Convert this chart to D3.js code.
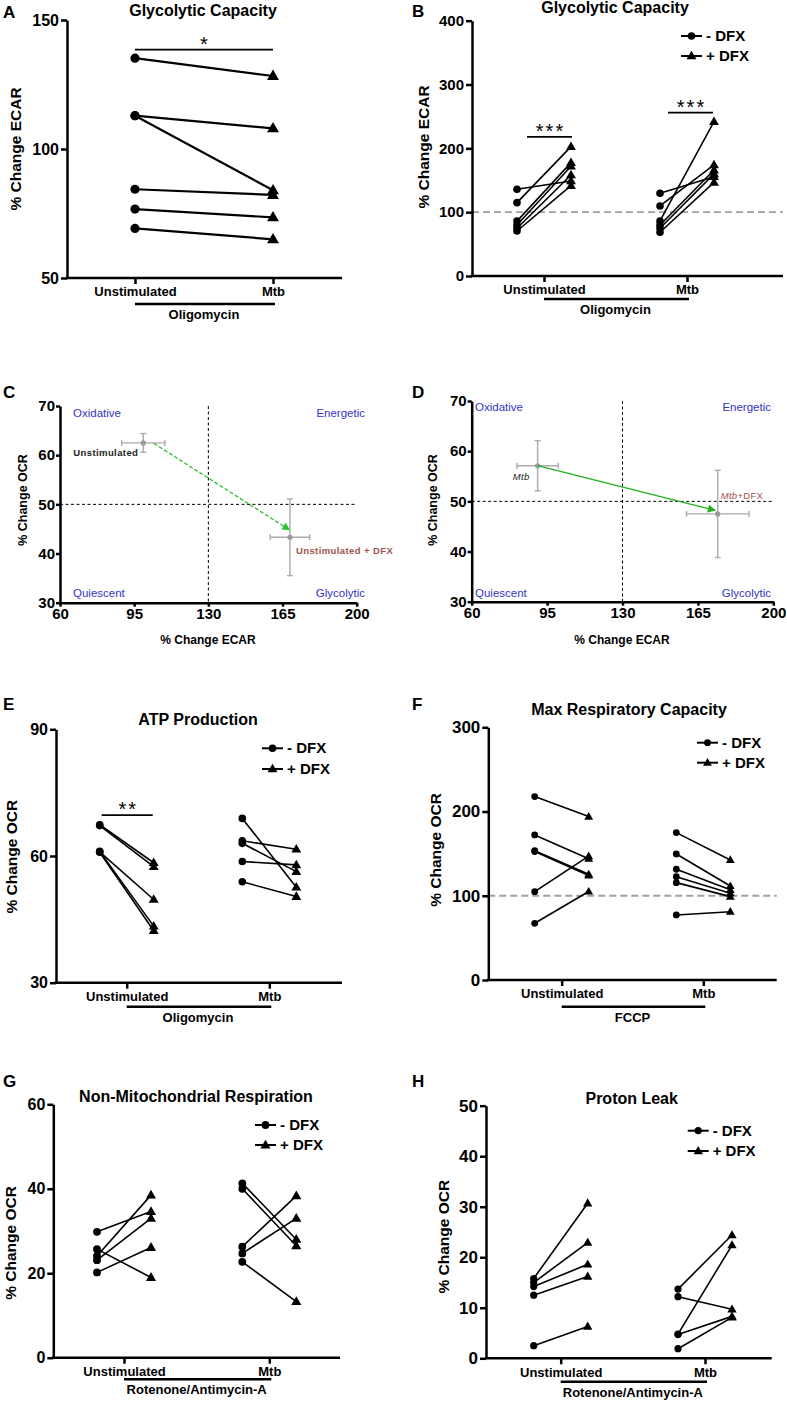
<!DOCTYPE html>
<html>
<head>
<meta charset="utf-8">
<script src="https://cdn.jsdelivr.net/npm/d3@7"></script>
<style>
body { margin: 0; background: #fff; }
svg text { font-family: "Liberation Sans", Arial, sans-serif; }
</style>
</head>
<body>
<svg id="fig" width="787" height="1403"></svg>
<script>
// categories / legend
var categories = ["Unstimulated", "Mtb"];
var legendLabels = ["- DFX", "+ DFX"];

// A: glycolytic capacity, unstim (circle) vs Mtb (triangle)
var aUnstim = [135.2, 112.9, 112.9, 84.4, 76.7, 69.2];
var aMtb = [128.3, 108.0, 84.0, 82.2, 73.5, 65.0];

// B: glycolytic capacity -/+ DFX
var bUnstimMinus = [135.9, 114.9, 86.0, 80.0, 74.8, 70.5];
var bUnstimPlus = [148.9, 202.7, 177.6, 172.0, 158.3, 141.5];
var bMtbMinus = [129.6, 109.7, 86.2, 80.0, 74.8, 68.5];
var bMtbPlus = [155.6, 174.0, 241.8, 166.0, 160.0, 146.8];

// C / D: energy map (ECAR x, OCR y, +/- error)
var cLabels = ["Unstimulated", "Unstimulated + DFX"];
var cEcar = [99.3, 168.5];
var cEcarErr = [10.2, 9.3];
var cOcr = [62.5, 43.3];
var cOcrErr = [1.9, 7.8];
var cArrow = [[104.3, 62.4], [168.3, 44.8]];

var dLabels = ["Mtb", "Mtb+DFX"];
var dEcar = [90.6, 174.2];
var dEcarErr = [9.6, 14.5];
var dOcr = [57.1, 47.5];
var dOcrErr = [5.0, 8.7];
var dArrow = [[90.6, 57.1], [173.0, 48.2]];

var quadrants = ["Oxidative", "Energetic", "Quiescent", "Glycolytic"];

// E: ATP production
var eUnstimMinus = [67.4, 67.2, 61.0, 61.1, 60.9];
var eUnstimPlus = [58.4, 57.5, 49.7, 43.4, 42.3];
var eMtbMinus = [68.9, 63.6, 63.0, 58.7, 53.9];
var eMtbPlus = [52.6, 61.6, 56.3, 57.9, 50.4];

// F: max respiratory capacity
var fUnstimMinus = [217.7, 172.2, 153.6, 152.5, 104.9, 67.3];
var fUnstimPlus = [194.0, 144.0, 125.5, 124.0, 147.0, 105.0];
var fMtbMinus = [175.0, 149.6, 131.5, 122.7, 115.6, 77.2];
var fMtbPlus = [142.5, 111.6, 107.0, 103.0, 99.0, 81.1];

// G: non-mitochondrial respiration
var gUnstimMinus = [29.8, 25.7, 24.1, 23.1, 20.2];
var gUnstimPlus = [34.6, 19.0, 38.5, 33.0, 26.1];
var gMtbMinus = [41.3, 40.0, 26.3, 24.7, 22.7];
var gMtbPlus = [28.0, 26.5, 38.3, 33.0, 13.3];

// H: proton leak
var hUnstimMinus = [15.8, 15.0, 14.2, 12.5, 2.5];
var hUnstimPlus = [30.7, 22.9, 18.6, 16.2, 6.3];
var hMtbMinus = [13.7, 12.2, 4.8, 4.7, 1.9];
var hMtbPlus = [24.4, 9.7, 22.4, 8.3, 8.1];

var svg = d3.select("#fig");

var defs = svg.append("defs");
function arrowMarker(id, color) {
  defs.append("marker")
    .attr("id", id)
    .attr("viewBox", "0 0 10 10")
    .attr("refX", 9).attr("refY", 5)
    .attr("markerWidth", 9).attr("markerHeight", 8)
    .attr("markerUnits", "userSpaceOnUse")
    .attr("orient", "auto")
    .append("path")
    .attr("d", "M0,0L10,5L0,10Z")
    .attr("fill", color);
}
arrowMarker("arrC", "#2fc12f");
arrowMarker("arrD", "#22b022");

function letter(t, x, y) {
  svg.append("text").attr("x", x).attr("y", y)
    .attr("font-size", 17).attr("font-weight", "bold").text(t);
}

function yTitle(g, t, cx, cy, size) {
  g.append("text")
    .attr("transform", `translate(${cx},${cy}) rotate(-90)`)
    .attr("text-anchor", "middle")
    .attr("dominant-baseline", "central")
    .attr("font-size", size).attr("font-weight", "bold")
    .text(t);
}

function drawMarker(g, shape, x, y, r) {
  if (shape == "circle") {
    g.append("circle").attr("cx", x).attr("cy", y).attr("r", r).attr("fill", "#000");
  } else {
    var s = r * 2.6; // triangle side
    g.append("path")
      .attr("d", d3.symbol().type(d3.symbolTriangle).size(s * s * Math.sqrt(3) / 4)())
      .attr("transform", `translate(${x},${y + 0.5})`)
      .attr("fill", "#000");
  }
}

function styleAxis(ax, size) {
  ax.selectAll("path,line").attr("stroke", "#000").attr("stroke-width", 2.5);
  ax.selectAll("text").attr("font-size", size).attr("font-weight", "bold").attr("fill", "#000");
  ax.attr("font-family", null);
}

// paired dot plot panel (A, B, E, F, G, H)
function pairedPanel(p) {
  var g = svg.append("g");
  var y = d3.scaleLinear().domain(p.yDomain).range([p.yBottom, p.yTop]);
  var x = d3.scalePoint().domain(categories).range(p.cats);

  // reference line
  if (p.ref != null) {
    g.append("line")
      .attr("x1", p.x0).attr("x2", p.xEnd)
      .attr("y1", y(p.ref)).attr("y2", y(p.ref))
      .attr("stroke", "#a0a0a0").attr("stroke-width", 1.8)
      .attr("stroke-dasharray", "7,4");
  }

  var ya = g.append("g").attr("transform", `translate(${p.x0},0)`)
    .call(d3.axisLeft(y).tickValues(p.yTicks).tickSize(6).tickSizeOuter(0).tickPadding(2));
  styleAxis(ya, p.tickFont);

  var xa = g.append("g").attr("transform", `translate(0,${p.yBottom})`)
    .call(d3.axisBottom(x).tickSize(6).tickSizeOuter(0).tickPadding(3));
  xa.select(".domain").remove();
  styleAxis(xa, 13);
  g.append("line")
    .attr("x1", p.x0 - 1.25).attr("x2", p.xEnd)
    .attr("y1", p.yBottom).attr("y2", p.yBottom)
    .attr("stroke", "#000").attr("stroke-width", 2.5);

  // treatment bar
  g.append("line")
    .attr("x1", x(categories[0])).attr("x2", x(categories[1]) + 2)
    .attr("y1", p.treatY).attr("y2", p.treatY)
    .attr("stroke", "#000").attr("stroke-width", 2.5);
  g.append("text")
    .attr("x", (x(categories[0]) + x(categories[1])) / 2).attr("y", p.treatY + 15)
    .attr("text-anchor", "middle")
    .attr("font-size", 13).attr("font-weight", "bold")
    .text(p.treatment);

  // title
  g.append("text").attr("x", p.titleX).attr("y", p.titleY)
    .attr("text-anchor", "middle").attr("font-size", 16).attr("font-weight", "bold")
    .text(p.title);

  yTitle(g, p.yLabel, p.yTitleX, p.yTitleY, 15.5);

  // pairs
  p.groups.forEach(function(gr) {
    var xa1 = x(gr.catA) + gr.offA, xb1 = x(gr.catB) + gr.offB;
    gr.a.forEach(function(v, i) {
      g.append("line")
        .attr("x1", xa1).attr("y1", y(v))
        .attr("x2", xb1).attr("y2", y(gr.b[i]))
        .attr("stroke", "#000").attr("stroke-width", p.lw);
    });
    gr.a.forEach(function(v) { drawMarker(g, "circle", xa1, y(v), p.r); });
    gr.b.forEach(function(v) { drawMarker(g, "triangle", xb1, y(v), p.r); });
  });

  // significance
  (p.sig || []).forEach(function(s) {
    var x1 = x(s.cat1) + s.dx1;
    var x2 = x(s.cat2) + s.dx2;
    g.append("line").attr("x1", x1).attr("x2", x2)
      .attr("y1", y(s.value)).attr("y2", y(s.value))
      .attr("stroke", "#000").attr("stroke-width", 1.8);
    g.append("text").attr("x", (x1 + x2) / 2 + 1).attr("y", y(s.value) + 1)
      .attr("text-anchor", "middle").attr("font-size", 20)
      .attr("letter-spacing", 2)
      .text(s.text);
  });

  // legend
  if (p.legendX != null) {
    legendLabels.forEach(function(l, i) {
      var ly = p.legendY[i];
      g.append("line").attr("x1", p.legendX).attr("x2", p.legendX + 21)
        .attr("y1", ly).attr("y2", ly).attr("stroke", "#000").attr("stroke-width", 2);
      drawMarker(g, i == 0 ? "circle" : "triangle", p.legendX + 10.5, ly, p.r);
      g.append("text").attr("x", p.legendX + 25).attr("y", ly + 5)
        .attr("font-size", 15).attr("font-weight", "bold").text(l);
    });
  }
}

function dfxGroups(um, up, mm, mp) {
  return [
    { catA: categories[0], offA: -27, catB: categories[0], offB: 27, a: um, b: up },
    { catA: categories[1], offA: -27, catB: categories[1], offB: 27, a: mm, b: mp }
  ];
}

// energy map panel (C, D)
function quadPanel(p) {
  var g = svg.append("g");
  var x = d3.scaleLinear().domain([60, 200]).range([p.x0, p.xEnd]);
  var y = d3.scaleLinear().domain([30, 70]).range([p.yBottom, p.yTop]);

  g.append("line").attr("x1", x(130)).attr("x2", x(130))
    .attr("y1", y(70)).attr("y2", y(30))
    .attr("stroke", "#000").attr("stroke-width", 1).attr("stroke-dasharray", "3,2.5");
  g.append("line").attr("x1", x(60)).attr("x2", x(200))
    .attr("y1", y(50)).attr("y2", y(50))
    .attr("stroke", "#000").attr("stroke-width", 1).attr("stroke-dasharray", "3,2.5");

  var ya = g.append("g").attr("transform", `translate(${p.x0},0)`)
    .call(d3.axisLeft(y).tickValues([30, 40, 50, 60, 70]).tickSize(4).tickSizeOuter(0).tickPadding(1));
  styleAxis(ya, 15);
  var xa = g.append("g").attr("transform", `translate(0,${p.yBottom})`)
    .call(d3.axisBottom(x).tickValues([60, 95, 130, 165, 200]).tickSize(4).tickSizeOuter(0).tickPadding(2));
  styleAxis(xa, 15);

  yTitle(g, "% Change OCR", p.yTitleX, 500, 12.5);
  g.append("text").attr("x", p.xTitleX).attr("y", 644)
    .attr("text-anchor", "middle").attr("font-size", 12).attr("font-weight", "bold")
    .text("% Change ECAR");

  // quadrant labels
  var qx = [p.qLeft, p.qRight, p.qLeft, p.qRight];
  var qy = [p.qTopY, p.qTopY, 597, 597];
  quadrants.forEach(function(q, i) {
    g.append("text").attr("x", qx[i]).attr("y", qy[i])
      .attr("text-anchor", i % 2 ? "end" : "start")
      .attr("font-size", 11.5).attr("fill", "#3434c4")
      .text(q);
  });

  // error bars + points
  p.ecar.forEach(function(v, i) {
    var cx = x(v), cy = y(p.ocr[i]);
    var xl = x(v - p.ecarErr[i]), xr = x(v + p.ecarErr[i]);
    var yt = y(p.ocr[i] + p.ocrErr[i]), yb = y(p.ocr[i] - p.ocrErr[i]);
    var eb = g.append("g").attr("stroke", "#ababab").attr("stroke-width", 1.4);
    eb.append("line").attr("x1", xl).attr("x2", xr).attr("y1", cy).attr("y2", cy);
    eb.append("line").attr("x1", xl).attr("x2", xl).attr("y1", cy - 3).attr("y2", cy + 3);
    eb.append("line").attr("x1", xr).attr("x2", xr).attr("y1", cy - 3).attr("y2", cy + 3);
    eb.append("line").attr("x1", cx).attr("x2", cx).attr("y1", yt).attr("y2", yb);
    eb.append("line").attr("x1", cx - 3).attr("x2", cx + 3).attr("y1", yt).attr("y2", yt);
    eb.append("line").attr("x1", cx - 3).attr("x2", cx + 3).attr("y1", yb).attr("y2", yb);
    g.append("circle").attr("cx", cx).attr("cy", cy).attr("r", 2.6).attr("fill", "#9a9a9a");
  });

  // arrow
  g.append("line")
    .attr("x1", x(p.arrow[0][0])).attr("y1", y(p.arrow[0][1]))
    .attr("x2", x(p.arrow[1][0])).attr("y2", y(p.arrow[1][1]))
    .attr("stroke", p.arrowColor).attr("stroke-width", 1.3)
    .attr("stroke-dasharray", p.arrowDash)
    .attr("marker-end", `url(#${p.arrowId})`);

  // point labels
  p.labels.forEach(function(l, i) {
    var cx = x(p.ecar[i]), cy = y(p.ocr[i]);
    var t = g.append("text").attr("x", cx + p.labDx[i]).attr("y", cy + p.labDy[i])
      .attr("text-anchor", p.labAnchor[i]).attr("font-size", 9.5)
      .attr("font-weight", p.labWeight).attr("letter-spacing", p.labSpacing)
      .attr("fill", i == 0 ? "#222" : "#a0524c");
    if (l.indexOf("Mtb") == 0 && p.italicMtb) {
      t.append("tspan").attr("font-style", "italic").text("Mtb");
      t.append("tspan").text(l.slice(3));
    } else {
      t.text(l);
    }
  });
}

// ---- Panel A
letter("A", 3, 18);
pairedPanel({
  x0: 67, xEnd: 342, yTop: 20, yBottom: 278, yDomain: [50, 150], yTicks: [50, 100, 150],
  tickFont: 16, cats: [135, 273], lw: 2.2, r: 4.6,
  title: "Glycolytic Capacity", titleX: 203, titleY: 16,
  yLabel: "% Change ECAR", yTitleX: 15, yTitleY: 149,
  treatment: "Oligomycin", treatY: 304,
  groups: [{ catA: categories[0], offA: 0, catB: categories[1], offB: 0, a: aUnstim, b: aMtb }],
  sig: [{ cat1: categories[0], dx1: 0, cat2: categories[1], dx2: 0, value: 138.5, text: "*" }]
});

// ---- Panel B
letter("B", 412, 17);
pairedPanel({
  x0: 472, xEnd: 783, yTop: 20.7, yBottom: 276, yDomain: [0, 400], yTicks: [0, 100, 200, 300, 400],
  tickFont: 15, cats: [544, 687], lw: 1.6, r: 3.8, ref: 100,
  title: "Glycolytic Capacity", titleX: 615, titleY: 13,
  yLabel: "% Change ECAR", yTitleX: 423, yTitleY: 147,
  treatment: "Oligomycin", treatY: 299,
  groups: dfxGroups(bUnstimMinus, bUnstimPlus, bMtbMinus, bMtbPlus),
  legendX: 681, legendY: [36, 56],
  sig: [
    { cat1: categories[0], dx1: -17, cat2: categories[0], dx2: 28, value: 218, text: "***" },
    { cat1: categories[1], dx1: -19, cat2: categories[1], dx2: 26, value: 256, text: "***" }
  ]
});

// ---- Panel C
letter("C", 3, 398);
quadPanel({
  x0: 60, xEnd: 356.7, yTop: 406, yBottom: 602.7,
  yTitleX: 23, xTitleX: 208, qLeft: 73, qRight: 365, qTopY: 417,
  ecar: cEcar, ecarErr: cEcarErr, ocr: cOcr, ocrErr: cOcrErr,
  arrow: cArrow, arrowColor: "#2fc12f", arrowDash: "4,2", arrowId: "arrC",
  labels: cLabels, labDx: [-5, 6], labDy: [13, 16.5], labAnchor: ["end", "start"],
  labWeight: "bold", labSpacing: 0.4, italicMtb: false
});

// ---- Panel D
letter("D", 412, 398);
quadPanel({
  x0: 471.7, xEnd: 773.3, yTop: 401, yBottom: 601.7,
  yTitleX: 433.3, xTitleX: 622, qLeft: 475, qRight: 771, qTopY: 411,
  ecar: dEcar, ecarErr: dEcarErr, ocr: dOcr, ocrErr: dOcrErr,
  arrow: dArrow, arrowColor: "#22b022", arrowDash: null, arrowId: "arrD",
  labels: dLabels, labDx: [-8, 3], labDy: [14, -15], labAnchor: ["end", "start"],
  labWeight: "normal", labSpacing: 0.3, italicMtb: true
});

// ---- Panel E
letter("E", 3, 710);
pairedPanel({
  x0: 56, xEnd: 342, yTop: 729.3, yBottom: 982.7, yDomain: [30, 90], yTicks: [30, 60, 90],
  tickFont: 16, cats: [126.7, 269.3], lw: 1.6, r: 3.8,
  title: "ATP Production", titleX: 198, titleY: 725,
  yLabel: "% Change OCR", yTitleX: 11.7, yTitleY: 856.7,
  treatment: "Oligomycin", treatY: 1006.7,
  groups: dfxGroups(eUnstimMinus, eUnstimPlus, eMtbMinus, eMtbPlus),
  legendX: 262, legendY: [748.3, 769],
  sig: [{ cat1: categories[0], dx1: -25, cat2: categories[0], dx2: 26, value: 69.7, text: "**" }]
});

// ---- Panel F
letter("F", 412, 710);
pairedPanel({
  x0: 488.3, xEnd: 776.7, yTop: 727.3, yBottom: 980, yDomain: [0, 300], yTicks: [0, 100, 200, 300],
  tickFont: 17, cats: [561.7, 703.3], lw: 1.6, r: 3.4, ref: 100,
  title: "Max Respiratory Capacity", titleX: 629, titleY: 715,
  yLabel: "% Change OCR", yTitleX: 435, yTitleY: 850,
  treatment: "FCCP", treatY: 1006.7,
  groups: dfxGroups(fUnstimMinus, fUnstimPlus, fMtbMinus, fMtbPlus),
  legendX: 697, legendY: [742.7, 762.7]
});

// ---- Panel G
letter("G", 3, 1087);
pairedPanel({
  x0: 53.3, xEnd: 340, yTop: 1104.3, yBottom: 1357.7, yDomain: [0, 60], yTicks: [0, 20, 40, 60],
  tickFont: 16, cats: [124, 269.3], lw: 1.6, r: 3.9,
  title: "Non-Mitochondrial Respiration", titleX: 196, titleY: 1102,
  yLabel: "% Change OCR", yTitleX: 10, yTitleY: 1243,
  treatment: "Rotenone/Antimycin-A", treatY: 1379.3,
  groups: dfxGroups(gUnstimMinus, gUnstimPlus, gMtbMinus, gMtbPlus),
  legendX: 255, legendY: [1125, 1145]
});

// ---- Panel H
letter("H", 412, 1087);
pairedPanel({
  x0: 486, xEnd: 771.7, yTop: 1105.7, yBottom: 1358.3, yDomain: [0, 50], yTicks: [0, 10, 20, 30, 40, 50],
  tickFont: 17, cats: [560.7, 705], lw: 1.6, r: 3.6,
  title: "Proton Leak", titleX: 631.7, titleY: 1104,
  yLabel: "% Change OCR", yTitleX: 443.3, yTitleY: 1236.7,
  treatment: "Rotenone/Antimycin-A", treatY: 1381.7,
  groups: dfxGroups(hUnstimMinus, hUnstimPlus, hMtbMinus, hMtbPlus),
  legendX: 687.7, legendY: [1130.7, 1151]
});
</script>
</body>
</html>
